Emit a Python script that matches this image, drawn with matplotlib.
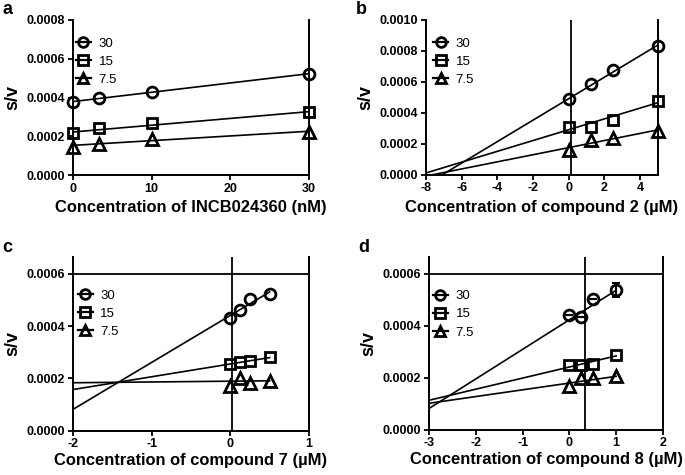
import numpy as np
import matplotlib
matplotlib.use("Agg")
import matplotlib.pyplot as plt
from matplotlib.ticker import FormatStrFormatter

plt.rcParams['font.family'] = ['Liberation Sans', 'DejaVu Sans']
plt.rcParams['axes.unicode_minus'] = False

# substrate series shown in every panel
labels = ["30", "15", "7.5"]
markers = ["o", "s", "^"]

# panel a: INCB024360 (nM)
conc_a = [0, 3.33, 10, 30]
sv_a = [[0.000375, 0.000400, 0.000428, 0.000523],
        [0.000218, 0.000243, 0.000266, 0.000327],
        [0.000146, 0.000158, 0.000187, 0.000223]]
fit_a = [(4.8e-6, 0.000379), (3.5e-6, 0.000222), (2.43e-6, 0.000153)]

# panel b: compound 2 (uM)
conc_b = [0, 1.25, 2.5, 5]
sv_b = [[0.000486, 0.000585, 0.000676, 0.000833],
        [0.000309, 0.000305, 0.000352, 0.000477],
        [0.000157, 0.000222, 0.000237, 0.000283]]
fit_b = [(6.95e-5, 0.000491), (3.5e-5, 0.000290), (2.3e-5, 0.000174)]

# panel c: compound 7 (uM)
conc_c = [0, 0.125, 0.25, 0.5]
sv_c = [[0.000433, 0.000461, 0.000503, 0.000522],
        [0.000255, 0.000262, 0.000266, 0.000280],
        [0.000171, 0.000201, 0.000181, 0.000188]]
fit_c = [(1.8e-4, 0.000441), (4.9e-5, 0.000255), (3e-6, 0.000189)]

# panel d: compound 8 (uM)
conc_d = [0, 0.25, 0.5, 1]
sv_d = [[0.000443, 0.000432, 0.000504, 0.000538],
        [0.000247, 0.000247, 0.000254, 0.000286],
        [0.000168, 0.000200, 0.000200, 0.000206]]
err_d = [[0, 0, 0, 0.000026], [0, 0, 0, 0], [0, 0, 0, 0]]
fit_d = [(1.14e-4, 0.000423), (4.28e-5, 0.000241), (2.6e-5, 0.000179)]

panels = [
    dict(letter="a", x=conc_a, y=sv_a, fit=fit_a, err=None,
         xlim=(0, 30), ylim=(0, 0.0008), xticks=[0, 10, 20, 30],
         yticks=[0, 0.0002, 0.0004, 0.0006, 0.0008],
         xlabel="Concentration of INCB024360 (nM)", vline=None, hline=None,
         pos=[73, 20, 309, 175], leg=(-0.026, 0.948), lpad=4),
    dict(letter="b", x=conc_b, y=sv_b, fit=fit_b, err=None,
         xlim=(-8, 5), ylim=(0, 0.001), xticks=[-8, -6, -4, -2, 0, 2, 4],
         yticks=[0, 0.0002, 0.0004, 0.0006, 0.0008, 0.0010],
         xlabel="Concentration of compound 2 (\u00b5M)", vline=0.15, hline=None,
         pos=[426, 20, 658, 174.5], leg=(-0.008, 0.948), lpad=4),
    dict(letter="c", x=conc_c, y=sv_c, fit=fit_c, err=None,
         xlim=(-2, 1), ylim=(0, 0.000665), xticks=[-2, -1, 0, 1],
         yticks=[0, 0.0002, 0.0004, 0.0006],
         xlabel="Concentration of compound 7 (\u00b5M)", vline=0.02, hline=0.0006,
         pos=[73, 257, 309, 430.5], leg=(-0.018, 0.867), lpad=2),
    dict(letter="d", x=conc_d, y=sv_d, fit=fit_d, err=err_d,
         xlim=(-3, 2), ylim=(0, 0.000665), xticks=[-3, -2, -1, 0, 1, 2],
         yticks=[0, 0.0002, 0.0004, 0.0006],
         xlabel="Concentration of compound 8 (\u00b5M)", vline=0.33, hline=0.0006,
         pos=[429, 257, 663, 429.5], leg=(-0.022, 0.862), lpad=2),
]

W, H = 685, 475
fig = plt.figure(figsize=(W / 100, H / 100), dpi=100)

lw = 1.2
for p in panels:
    l, t, r, b = p["pos"]
    ax = fig.add_axes([l / W, 1 - b / H, (r - l) / W, (b - t) / H])

    for i in range(3):
        slope, icpt = p["fit"][i]
        xs = np.array([p["xlim"][0], max(p["x"])])
        ax.plot(xs, slope * xs + icpt, color="black", lw=lw, zorder=2)
        ax.plot(p["x"], p["y"][i], linestyle="none", marker=markers[i],
                ms=7.8 if markers[i] != "^" else 8.3, mfc="none", mec="black",
                mew=2.0, clip_on=False, zorder=4)
        if p["err"] is not None and any(p["err"][i]):
            ax.errorbar(p["x"], p["y"][i], yerr=p["err"][i], fmt="none",
                        ecolor="black", elinewidth=1.5, capsize=3, capthick=1.5,
                        zorder=3)
        # legend proxy
        ax.plot([], [], color="black", lw=1.6, marker=markers[i], ms=7,
                mfc="none", mec="black", mew=2.0, label=labels[i])

    if p["vline"] is not None:
        ax.axvline(p["vline"], color="black", lw=1.3, zorder=1)
    if p["hline"] is not None:
        ax.axhline(p["hline"], color="black", lw=1.3, zorder=1)

    ax.set_xlim(*p["xlim"])
    ax.set_ylim(*p["ylim"])
    ax.set_xticks(p["xticks"])
    ax.set_yticks(p["yticks"])
    ax.yaxis.set_major_formatter(FormatStrFormatter("%.4f"))
    for side in ["left", "bottom", "right"]:
        ax.spines[side].set_linewidth(1.4)
    ax.spines["top"].set_visible(False)
    ax.tick_params(direction="out", length=3.5, width=1.3, labelsize=9, pad=2)
    for lab in ax.get_xticklabels() + ax.get_yticklabels():
        lab.set_fontweight("bold")
    ax.set_xlabel(p["xlabel"], fontsize=11.9, fontweight="bold", labelpad=p["lpad"])
    ax.set_ylabel("s/v", fontsize=13, fontweight="bold", labelpad=4)

    ax.legend(loc="upper left", bbox_to_anchor=p["leg"], frameon=False,
              fontsize=9.5, handlelength=1.1, handletextpad=0.6,
              labelspacing=0.45, borderaxespad=0.3)

    fig.text((l - 72) / W + 0.002, 1 - (t - 10) / H, p["letter"],
             fontsize=13, fontweight="bold", va="center", ha="left")

fig.savefig("out.png", dpi=100)
